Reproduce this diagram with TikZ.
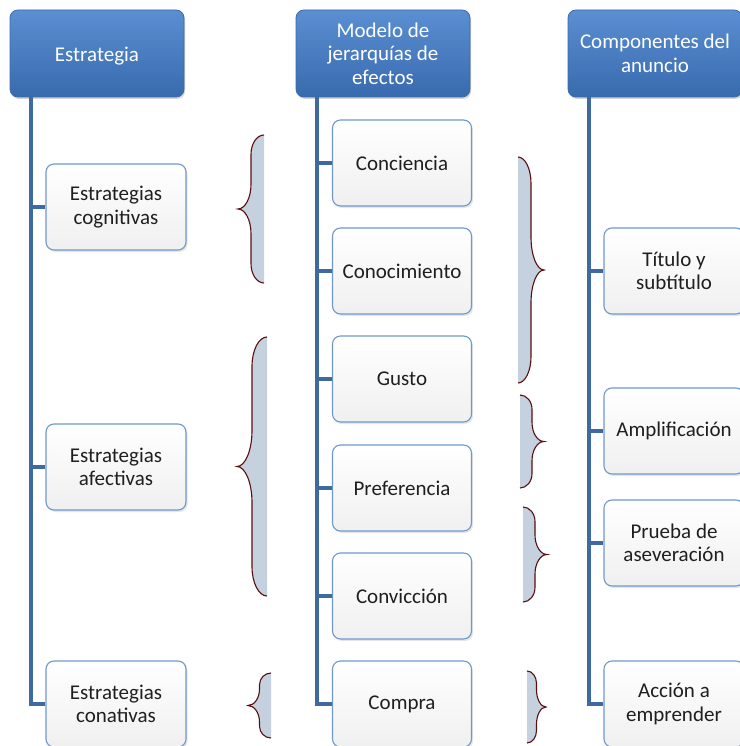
\documentclass[tikz,border=0pt]{standalone}
\usepackage{fontspec}
\setmainfont{Carlito}
\usetikzlibrary{shadows}

\definecolor{headtop}{HTML}{5A8FD2}
\definecolor{headbot}{HTML}{386AAE}
\definecolor{headline}{HTML}{3C6AA8}
\definecolor{itemline}{HTML}{6E98CC}
\definecolor{trunkblue}{HTML}{3E6A9F}
\definecolor{bracered}{HTML}{5A0E0E}
\definecolor{bracegray}{HTML}{C5D1DE}

\tikzset{
  header/.style={draw=headline, line width=0.8pt, rounded corners=8pt,
    top color=headtop, bottom color=headbot, text=white,
    minimum width=174pt, minimum height=87pt, align=center,
    drop shadow={opacity=0.35, shadow xshift=1pt, shadow yshift=-2pt}},
  itembox/.style={draw=itemline, line width=1.1pt, rounded corners=8pt,
    top color=white, bottom color=black!6, text=black!88,
    minimum width=140pt, minimum height=86pt, align=center,
    drop shadow={opacity=0.2, shadow xshift=1.5pt, shadow yshift=-2pt}},
  trunk/.style={draw=trunkblue, line width=4.5pt},
  bracefill/.style={fill=bracegray},
  braceline/.style={draw=bracered, line width=1.1pt},
}

% #1 back x, #2 tip x, #3 top y, #4 bottom y
\newcommand{\sidebrace}[4]{%
  \pgfmathsetmacro{\bshaft}{#1+0.5*(#2-#1)}%
  \pgfmathsetmacro{\bendx}{#1+0.55*(\bshaft-#1)}%
  \pgfmathsetmacro{\btipx}{\bshaft+0.45*(#2-\bshaft)}%
  \pgfmathsetmacro{\bmid}{(#3+#4)/2}%
  \pgfmathsetmacro{\bend}{min(0.2*(#4-#3),6+0.09*(#4-#3))}%
  \pgfmathsetmacro{\bcurl}{min(0.27*(#4-#3),10+0.1*(#4-#3))}%
  \def\bracepath{(#1,#3) .. controls (\bendx,#3) and (\bshaft,#3+0.45*\bend) .. (\bshaft,#3+\bend)
    -- (\bshaft,\bmid-\bcurl) .. controls (\bshaft,\bmid-0.45*\bcurl) and (\btipx,\bmid) .. (#2,\bmid)
    .. controls (\btipx,\bmid) and (\bshaft,\bmid+0.45*\bcurl) .. (\bshaft,\bmid+\bcurl)
    -- (\bshaft,#4-\bend) .. controls (\bshaft,#4-0.45*\bend) and (\bendx,#4) .. (#1,#4)}%
  \fill[bracefill] \bracepath -- cycle;
  \draw[braceline] \bracepath;
}

\begin{document}
\begin{tikzpicture}[x=1pt, y=-1pt,
    every node/.style={font=\fontsize{21}{23.5}\selectfont}]
  \useasboundingbox (0,0) rectangle (739,746);

  % Column headers
  \node[header] (strat) at (97,53.5) {\raisebox{-3pt}[\height][\depth]{Estrategia}};
  \node[header] (model) at (383,53.5) {Modelo de\\jerarquías de\\efectos};
  \node[header] (comp) at (655,53.5) {Componentes del\\anuncio};

  % Strategy column
  \node[itembox] (cogn) at (116,207) {Estrategias\\cognitivas};
  \node[itembox] (afect) at (116,467) {Estrategias\\afectivas};
  \node[itembox] (conat) at (116,704) {Estrategias\\conativas};

  % Hierarchy of effects column
  \node[itembox, minimum width=139pt] (conc) at (402,163) {Conciencia};
  \node[itembox, minimum width=139pt] (conoc) at (402,271) {Conocimiento};
  \node[itembox, minimum width=139pt] (gusto) at (402,379) {Gusto};
  \node[itembox, minimum width=139pt] (pref) at (402,488) {Preferencia};
  \node[itembox, minimum width=139pt] (convic) at (402,596) {Convicción};
  \node[itembox, minimum width=139pt] (compra) at (402,704) {Compra};

  % Ad components column
  \node[itembox] (titulo) at (674,271) {Título y\\subtítulo};
  \node[itembox] (ampl) at (674,431) {Amplificación};
  \node[itembox] (prueba) at (674,543) {Prueba de\\aseveración};
  \node[itembox] (accion) at (674,704) {Acción a\\emprender};

  % Trunks and branches
  \coordinate (lt) at (31,97.5);
  \coordinate (mt) at (317,97.5);
  \coordinate (rt) at (589,97.5);
  \draw[trunk] (lt) |- (conat.west);
  \draw[trunk] (lt |- cogn.west) -- (cogn.west);
  \draw[trunk] (lt |- afect.west) -- (afect.west);
  \draw[trunk] (mt) |- (compra.west);
  \draw[trunk] (mt |- conc.west) -- (conc.west);
  \draw[trunk] (mt |- conoc.west) -- (conoc.west);
  \draw[trunk] (mt |- gusto.west) -- (gusto.west);
  \draw[trunk] (mt |- pref.west) -- (pref.west);
  \draw[trunk] (mt |- convic.west) -- (convic.west);
  \draw[trunk] (rt) |- (accion.west);
  \draw[trunk] (rt |- titulo.west) -- (titulo.west);
  \draw[trunk] (rt |- ampl.west) -- (ampl.west);
  \draw[trunk] (rt |- prueba.west) -- (prueba.west);

  % Braces, strategy to effects
  \sidebrace{264}{238}{135}{283}
  \sidebrace{267}{237}{337}{596}
  \sidebrace{271}{248}{673}{738}

  % Braces, effects to components
  \sidebrace{518}{544}{157}{383}
  \sidebrace{520}{544}{395}{488}
  \sidebrace{523}{547}{507}{602}
  \sidebrace{527}{546}{671}{743}
\end{tikzpicture}
\end{document}
